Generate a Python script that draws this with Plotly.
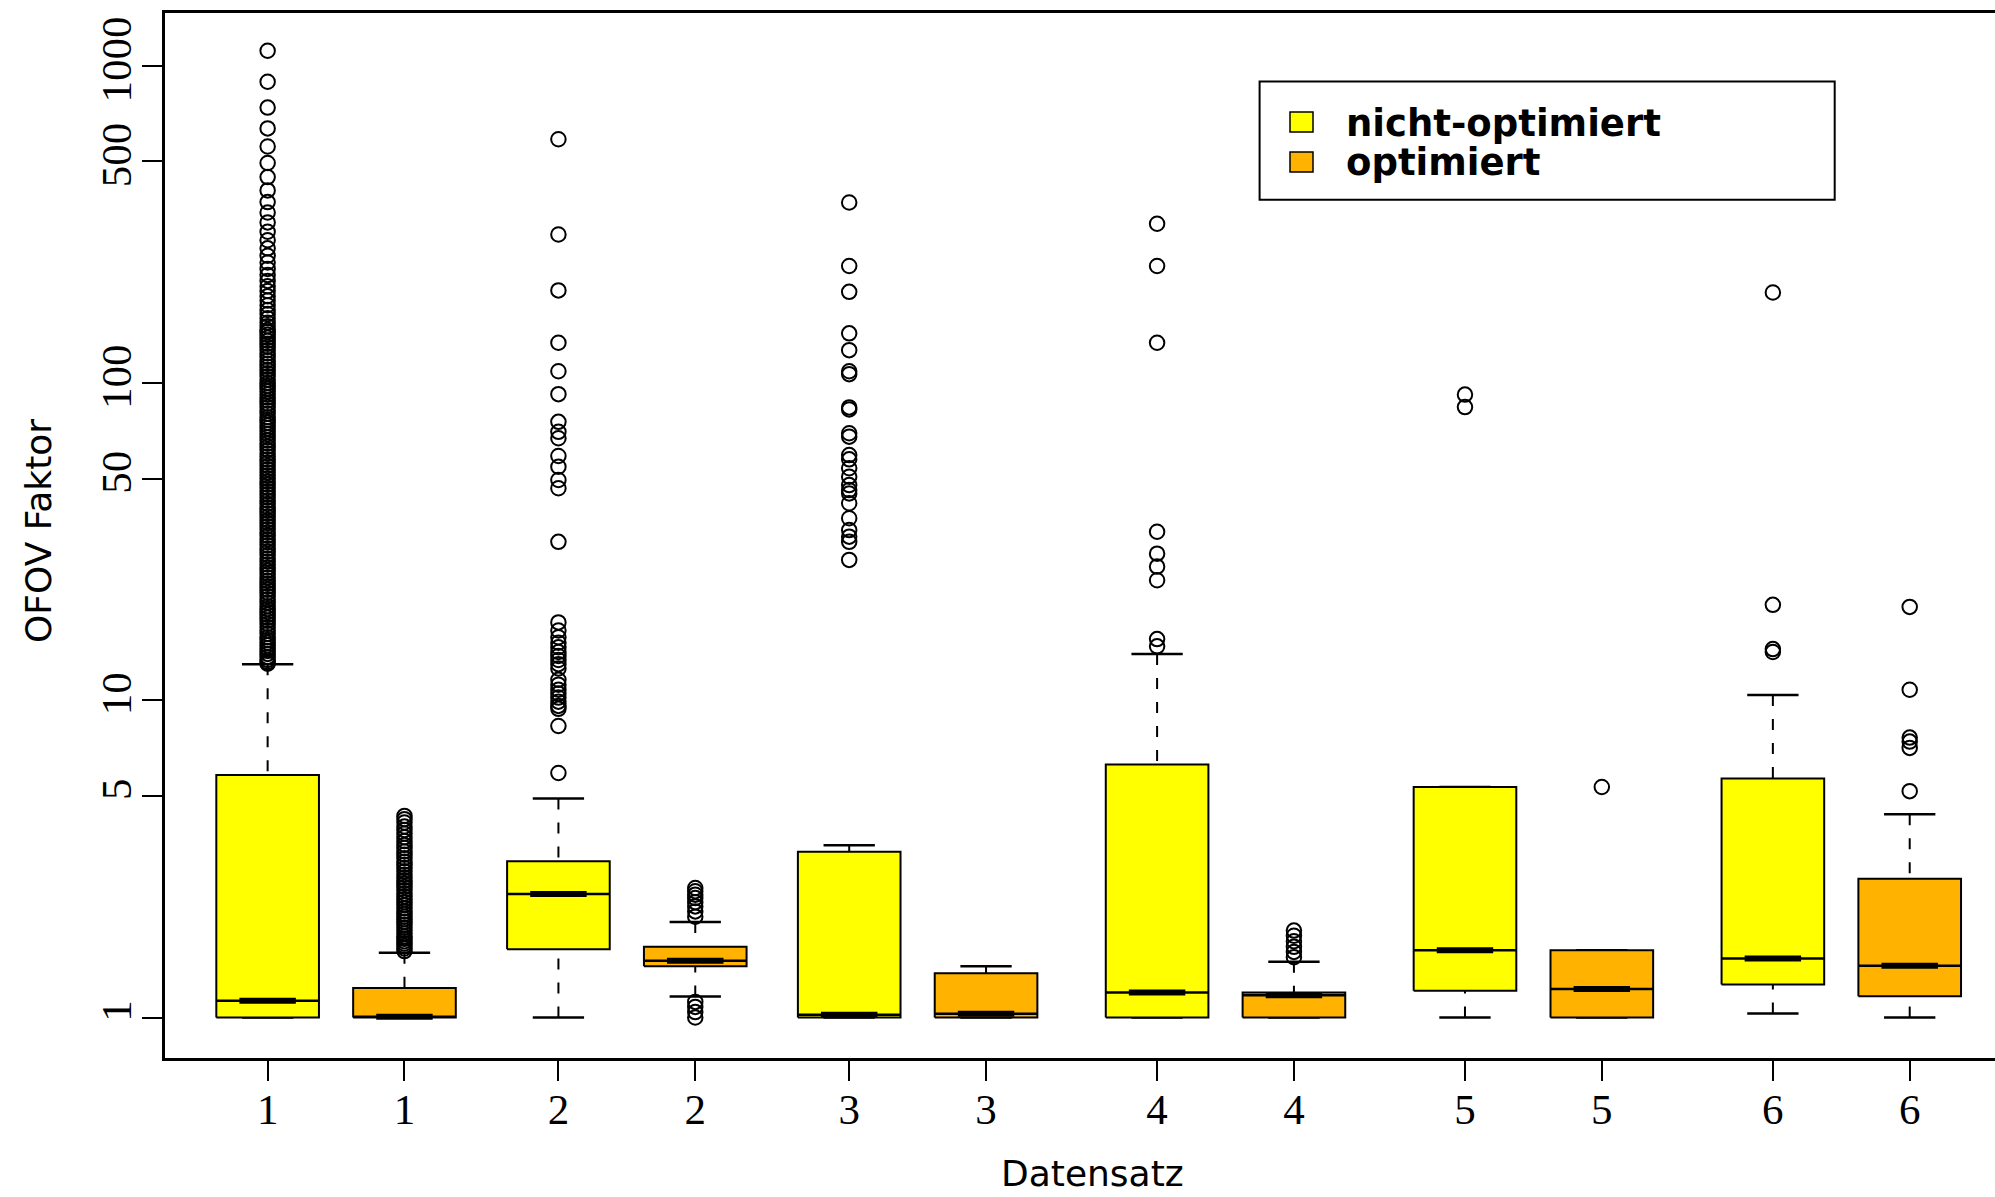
import plotly.graph_objects as go

# ---- data -------------------------------------------------------------
datasets = ["1", "1", "2", "2", "3", "3", "4", "4", "5", "5", "6", "6"]
positions = [1.0, 1.8, 2.7, 3.5, 4.4, 5.2, 6.2, 7.0, 8.0, 8.8, 9.8, 10.6]
variant = ["nicht-optimiert", "optimiert"] * 6

lower_whisker = [1.0, 1.0, 1.0, 1.165, 1.0, 1.0, 1.0, 1.0, 1.0, 1.0, 1.03, 1.0]
q1 = [1.0, 1.0, 1.64, 1.45, 1.0, 1.0, 1.0, 1.0, 1.215, 1.0, 1.27, 1.166]
median = [1.13, 1.005, 2.45, 1.51, 1.02, 1.027, 1.2, 1.176, 1.63, 1.23, 1.535, 1.456]
q3 = [5.81, 1.24, 3.11, 1.67, 3.33, 1.38, 6.28, 1.2, 5.33, 1.63, 5.67, 2.74]
upper_whisker = [13.0, 1.60, 4.90, 2.0, 3.49, 1.45, 14.0, 1.50, 5.33, 1.63, 10.4, 4.37]

outliers = [
    # 1 nicht-optimiert
    [1116, 891, 739, 635, 557, 494, 446, 405, 372, 345, 321, 300, 282, 266,
     252, 240, 229, 219, 210, 202, 195, 188, 182, 176, 170, 165, 160, 155,
     151, 147, 145, 142, 139, 136, 133, 130, 127, 124, 121, 118, 115, 112.5,
     110, 107.5, 105, 102.5, 100, 98, 96, 94, 92, 90, 88, 86, 84, 82, 80, 78,
     76.5, 75, 73.5, 72, 70.5, 69, 67.5, 66, 64.5, 63, 61.5, 60, 58.7, 57.4,
     56.1, 54.8, 53.5, 52.3, 51.1, 50, 48.9, 47.8, 46.7, 45.6, 44.6, 43.6,
     42.6, 41.6, 40.6, 39.7, 38.8, 37.9, 37, 36.2, 35.4, 34.6, 33.8, 33, 32.2,
     31.5, 30.8, 30.1, 29.4, 28.7, 28, 27.4, 26.8, 26.2, 25.6, 25, 24.4, 23.8,
     23.3, 22.8, 22.3, 21.8, 21.3, 20.8, 20.3, 19.8, 19.4, 19, 18.6, 18.2,
     17.8, 17.4, 17, 16.6, 16.2, 15.8, 15.5, 15.2, 14.9, 14.6, 14.3, 14, 13.7,
     13.4, 13.2, 13.05],
    # 1 optimiert
    [4.32, 4.22, 4.12, 4.0, 3.9, 3.8, 3.7, 3.6, 3.5, 3.42, 3.34, 3.26, 3.18,
     3.1, 3.03, 2.96, 2.89, 2.82, 2.76, 2.7, 2.64, 2.58, 2.52, 2.46, 2.41,
     2.36, 2.31, 2.26, 2.21, 2.16, 2.12, 2.08, 2.04, 2.0, 1.96, 1.92, 1.88,
     1.84, 1.8, 1.77, 1.74, 1.71, 1.68, 1.65, 1.62],
    # 2 nicht-optimiert
    [587, 294, 196, 134, 109, 92.3, 75.5, 70.2, 67.0, 58.9, 54.5, 49.5, 46.6,
     31.6, 17.6, 16.6, 15.8, 15.2, 14.7, 14.2, 13.8, 13.4, 13.0, 12.6, 11.6,
     11.2, 10.8, 10.5, 10.2, 9.9, 9.6, 9.4, 8.3, 5.9],
    # 2 optimiert
    [2.56, 2.50, 2.44, 2.38, 2.31, 2.24, 2.16, 2.08, 1.12, 1.08, 1.04, 1.0],
    # 3 nicht-optimiert
    [371, 234, 194, 143.5, 127, 109, 106.7, 83.8, 82.6, 69.5, 67.8, 59.3, 57.5,
     53.9, 50.7, 47.7, 46.0, 44.9, 41.8, 37.5, 34.4, 32.8, 31.6, 27.7],
    # 3 optimiert
    [],
    # 4 nicht-optimiert
    [318, 234, 134, 34.0, 29.0, 26.4, 23.9, 15.6, 14.8],
    # 4 optimiert
    [1.88, 1.81, 1.74, 1.67, 1.61, 1.55],
    # 5 nicht-optimiert
    [92, 84],
    # 5 optimiert
    [5.33],
    # 6 nicht-optimiert
    [193, 20.0, 14.5, 14.2],
    # 6 optimiert
    [19.7, 10.8, 7.63, 7.41, 7.08, 5.17],
]

y_ticks = [1, 5, 10, 50, 100, 500, 1000]
colors = {"nicht-optimiert": "#FFFF00", "optimiert": "#FFB300"}

BOX_W = 0.6
CAP_W = 0.3
MED_W = 0.33

# ---- figure geometry (pixels) ----------------------------------------
W, H = 1995, 1197
ML, MR, MT, MB = 165, 0, 13, 139
PW, PH = W - ML - MR, H - MT - MB
UNIT = 171.05  # pixels per x unit
x_range = [0.4, 0.4 + PW / UNIT]


def px(x):
    return (x - ML) / PW


def py(y):
    return (H - MB - y) / PH


fig = go.Figure()

# whiskers (dashed), drawn from whisker end to box edge
wx, wy = [], []
for p, lo, a, b, hi in zip(positions, lower_whisker, q1, q3, upper_whisker):
    if hi > b:
        wx += [p, p, None]
        wy += [hi, b, None]
    if lo < a:
        wx += [p, p, None]
        wy += [lo, a, None]
fig.add_trace(go.Scatter(x=wx, y=wy, mode="lines",
                         line=dict(color="black", width=2, dash="11px,13px"),
                         hoverinfo="skip", showlegend=False))

# whisker caps
cx, cy = [], []
for p, lo, hi in zip(positions, lower_whisker, upper_whisker):
    for v in (lo, hi):
        cx += [p - CAP_W / 2, p + CAP_W / 2, None]
        cy += [v, v, None]
fig.add_trace(go.Scatter(x=cx, y=cy, mode="lines",
                         line=dict(color="black", width=2.5),
                         hoverinfo="skip", showlegend=False))

# boxes
for p, a, b, v in zip(positions, q1, q3, variant):
    fig.add_trace(go.Scatter(
        x=[p - BOX_W / 2, p + BOX_W / 2, p + BOX_W / 2, p - BOX_W / 2, p - BOX_W / 2],
        y=[a, a, b, b, a], mode="lines", fill="toself",
        fillcolor=colors[v], line=dict(color="black", width=2),
        hoverinfo="skip", showlegend=False, name=v))

# medians: thin line across the box plus a heavy centre stroke
mx, my, tx, ty = [], [], [], []
for p, m in zip(positions, median):
    mx += [p - BOX_W / 2, p + BOX_W / 2, None]
    my += [m, m, None]
    tx += [p - MED_W / 2, p + MED_W / 2, None]
    ty += [m, m, None]
fig.add_trace(go.Scatter(x=mx, y=my, mode="lines",
                         line=dict(color="black", width=2.5),
                         hoverinfo="skip", showlegend=False))
fig.add_trace(go.Scatter(x=tx, y=ty, mode="lines",
                         line=dict(color="black", width=6),
                         hoverinfo="skip", showlegend=False))

# outliers
ox, oy = [], []
for p, vals in zip(positions, outliers):
    ox += [p] * len(vals)
    oy += vals
fig.add_trace(go.Scatter(x=ox, y=oy, mode="markers",
                         marker=dict(symbol="circle-open", size=14.5,
                                     color="black", line=dict(width=2, color="black")),
                         hoverinfo="skip", showlegend=False))

tick_font = dict(family="Liberation Serif", size=43, color="black")

fig.update_xaxes(range=x_range, showgrid=False, zeroline=False,
                 showline=True, mirror=True, linecolor="black", linewidth=3,
                 ticks="outside", ticklen=20, tickwidth=2, tickcolor="black",
                 tickvals=positions, ticktext=datasets, tickfont=tick_font,
                 ticklabelstandoff=-9)
fig.update_yaxes(type="log", range=[-0.1276, 3.1667], showgrid=False, zeroline=False,
                 showline=True, mirror=False, linecolor="black", linewidth=3,
                 ticks="outside", ticklen=20, tickwidth=2, tickcolor="black",
                 tickvals=y_ticks, ticktext=[str(t) for t in y_ticks],
                 tickangle=-90, tickfont=tick_font, ticklabelstandoff=-6)

title_font = dict(family="DejaVu Sans", size=36, color="black")
annotations = [
    dict(text="Datensatz", xref="paper", yref="paper", x=px(1092), y=py(1196),
         xanchor="center", yanchor="bottom", showarrow=False, font=title_font),
    dict(text="OFOV Faktor", xref="paper", yref="paper", x=px(38), y=py(531),
         xanchor="center", yanchor="middle", textangle=-90, showarrow=False,
         font=title_font),
]

# legend drawn as a framed key in the upper right
legend_font = dict(family="DejaVu Sans", size=37, color="black")
shapes = [dict(type="rect", xref="paper", yref="paper",
               x0=px(1259.6), x1=px(1834.7), y0=py(199.7), y1=py(81.4),
               line=dict(color="black", width=2), fillcolor="white", layer="above")]
for i, name in enumerate(["nicht-optimiert", "optimiert"]):
    yc = 122 + 40 * i
    shapes.append(dict(type="rect", xref="paper", yref="paper",
                       x0=px(1290), x1=px(1313), y0=py(yc + 10), y1=py(yc - 10),
                       line=dict(color="black", width=1.5), fillcolor=colors[name],
                       layer="above"))
    annotations.append(dict(text="<b>%s</b>" % name, xref="paper", yref="paper",
                            x=px(1344), y=py(yc + 1), xanchor="left", yanchor="middle",
                            showarrow=False, font=legend_font))

fig.update_layout(width=W, height=H, margin=dict(l=ML, r=MR, t=MT, b=MB),
                  paper_bgcolor="white", plot_bgcolor="white",
                  shapes=shapes, annotations=annotations, showlegend=False)

fig.write_html("out.html")
